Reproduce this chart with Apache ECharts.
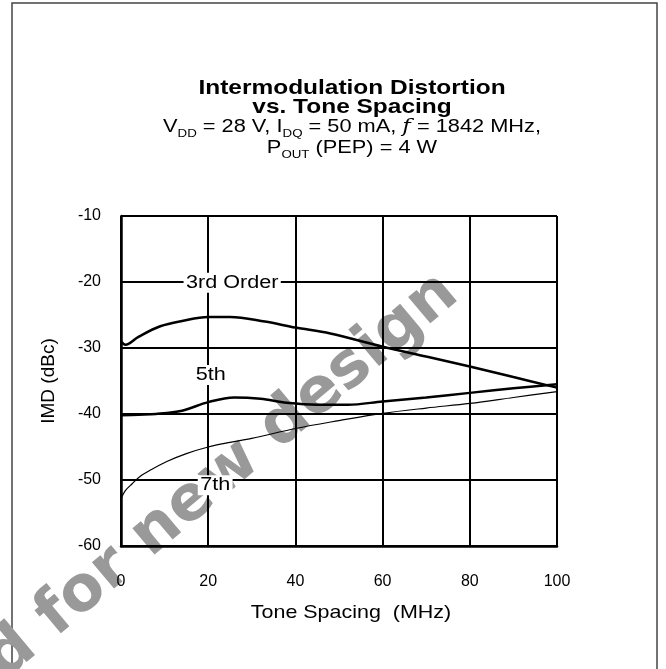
<!DOCTYPE html>
<html><head><meta charset="utf-8">
<script src="https://cdn.jsdelivr.net/npm/echarts@6/dist/echarts.min.js"></script>
<style>html,body{margin:0;padding:0;background:#fff}#c{width:666px;height:669px}</style>
</head><body><div id="c"></div>
<script>
// ---- data ----
const xTicks = [0, 20, 40, 60, 80, 100];
const yTicks = [-60, -50, -40, -30, -20, -10];

const x3rd = [0, 1, 4, 9, 14, 20, 25, 33, 40, 48, 60, 70, 80, 90, 100];
const y3rd = [-29.0, -29.5, -28.3, -26.7, -25.9, -25.3, -25.3, -26.0, -26.9, -27.8, -29.8, -31.3, -32.8, -34.4, -36.0];

const x5th = [0, 4, 8, 14, 20, 26, 32, 38, 45, 52, 60, 70, 80, 90, 100];
const y5th = [-40.2, -40.1, -40.0, -39.5, -38.2, -37.5, -37.7, -38.3, -38.6, -38.6, -38.1, -37.5, -36.8, -36.1, -35.5];

const x7th = [0, 1, 2.5, 4.5, 7, 10.5, 15, 20, 25, 30, 40, 50, 60, 70, 80, 90, 100];
const y7th = [-52.8, -51.6, -50.6, -49.4, -48.4, -47.2, -46.0, -45.0, -44.3, -43.7, -42.2, -41.0, -39.9, -39.1, -38.4, -37.5, -36.6];

const curveLabels = ['3rd Order', '5th', '7th'];
const labelX = [25.5, 20.6, 21.6];
const labelY = [-20.1, -34.1, -50.8];

const titleLine1 = 'Intermodulation Distortion';
const titleLine2 = 'vs. Tone Spacing';
const xName = 'Tone Spacing  (MHz)';
const yName = 'IMD (dBc)';
const watermark = 'd for new design';
// ---------------------------------------

const FONT = '"Liberation Sans", Arial, sans-serif';
const zip = (xs, ys) => xs.map((x, i) => [x, ys[i]]);

const chart = echarts.init(document.getElementById('c'), null, {renderer: 'canvas'});
const baseGraphics = [
  {type: 'rect', z: -100, shape: {x: 12, y: 3, width: 645, height: 700},
   style: {fill: 'none', stroke: '#444', lineWidth: 1.5}},
  {type: 'text', z: -90, x: -6, y: 668, rotation: 40 * Math.PI / 180,
   style: {text: watermark, fill: '#999', font: 'bold 63px "DejaVu Sans", sans-serif',
     textAlign: 'left', textVerticalAlign: 'middle'}},
  {type: 'text', x: 352, y: 88, scaleX: 1.165,
   style: {text: titleLine1, fill: '#000', font: 'bold 21px ' + FONT, textAlign: 'center', textVerticalAlign: 'middle'}},
  {type: 'text', x: 352, y: 107, scaleX: 1.165,
   style: {text: titleLine2, fill: '#000', font: 'bold 21px ' + FONT, textAlign: 'center', textVerticalAlign: 'middle'}},
  {type: 'text', x: 352, y: 127, scaleX: 1.21,
   style: {
     text: '{n|V}{s|DD}{n| = 28 V, I}{s|DQ}{n| = 50 mA, }{i|f}{n| = 1842 MHz,}',
     textAlign: 'center', textVerticalAlign: 'middle',
     rich: {
       n: {fontSize: 18, fontFamily: FONT, fill: '#000', lineHeight: 20, verticalAlign: 'middle'},
       s: {fontSize: 11, fontFamily: FONT, fill: '#000', lineHeight: 11, verticalAlign: 'bottom', padding: [0, 0, -2, 0]},
       i: {fontSize: 19, fontFamily: '"DejaVu Serif", serif', fontStyle: 'italic', fill: '#000', lineHeight: 20}
     }
   }},
  {type: 'text', x: 352, y: 148, scaleX: 1.21,
   style: {
     text: '{n|P}{s|OUT}{n| (PEP) = 4 W}',
     textAlign: 'center', textVerticalAlign: 'middle',
     rich: {
       n: {fontSize: 18, fontFamily: FONT, fill: '#000', lineHeight: 20, verticalAlign: 'middle'},
       s: {fontSize: 11, fontFamily: FONT, fill: '#000', lineHeight: 11, verticalAlign: 'bottom', padding: [0, 0, -2, 0]}
     }
   }},
  {type: 'text', x: 351, y: 613, scaleX: 1.13,
   style: {text: xName, fill: '#000', font: '19px ' + FONT, textAlign: 'center', textVerticalAlign: 'middle'}}
];

chart.setOption({
  animation: false,
  backgroundColor: '#fff',
  grid: {left: 121, top: 216, width: 436, height: 330, containLabel: false},
  xAxis: {
    type: 'value', min: 0, max: 100, interval: 20, z: 2,
    axisLine: {show: true, lineStyle: {color: '#000', width: 2.5}},
    axisTick: {show: false},
    axisLabel: {color: '#000', fontSize: 16, fontFamily: FONT, margin: 28,
      formatter: v => xTicks.includes(v) ? String(v) : ''},
    splitLine: {show: true, lineStyle: {color: '#000', width: 2}}
  },
  yAxis: {
    type: 'value', min: -60, max: -10, interval: 10, z: 2,
    name: yName, nameLocation: 'middle', nameGap: 63,
    nameTextStyle: {color: '#000', fontSize: 19, fontFamily: FONT, padding: [0, 0, 0, 0]},
    axisLine: {show: true, onZero: false, lineStyle: {color: '#000', width: 2.5}},
    axisTick: {show: false},
    axisLabel: {color: '#000', fontSize: 16, fontFamily: FONT, margin: 20, padding: [5, 0, 0, 0],
      formatter: v => yTicks.includes(v) ? String(v) : ''},
    splitLine: {show: true, lineStyle: {color: '#000', width: 2}}
  },
  graphic: baseGraphics,
  series: [
    {type: 'line', name: '3rd', data: zip(x3rd, y3rd), smooth: 0.35, showSymbol: false, z: 3,
     lineStyle: {color: '#000', width: 2.5}},
    {type: 'line', name: '5th', data: zip(x5th, y5th), smooth: 0.35, showSymbol: false, z: 3,
     lineStyle: {color: '#000', width: 2.5}},
    {type: 'line', name: '7th', data: zip(x7th, y7th), smooth: 0.35, showSymbol: false, z: 3,
     lineStyle: {color: '#000', width: 1.2}}
  ]
});

// curve labels placed through the chart's own scales
const labelGraphics = curveLabels.map((t, i) => {
  const p = chart.convertToPixel({gridIndex: 0}, [labelX[i], labelY[i]]);
  return {type: 'text', z: 10, x: p[0], y: p[1], scaleX: 1.2,
    style: {text: t, fill: '#000', font: '18px ' + FONT, textAlign: 'center', textVerticalAlign: 'middle',
      backgroundColor: '#fff', padding: [1, 2]}};
});
chart.setOption({graphic: baseGraphics.concat(labelGraphics)});
</script></body></html>
